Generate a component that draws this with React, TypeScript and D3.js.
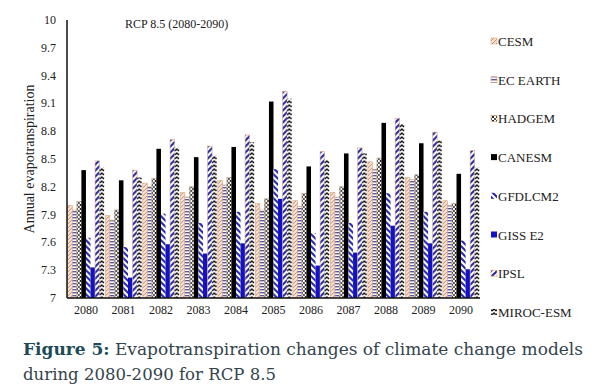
import React from 'react';
import * as d3 from 'd3';

const years = ['2080', '2081', '2082', '2083', '2084', '2085', '2086', '2087', '2088', '2089', '2090'];
const seriesNames = ['CESM', 'EC EARTH', 'HADGEM', 'CANESM', 'GFDLCM2', 'GISS E2', 'IPSL', 'MIROC-ESM'];
const cesm = [8.0, 7.89, 8.24, 8.14, 8.27, 8.02, 8.05, 8.14, 8.47, 8.3, 8.05];
const ecEarth = [7.95, 7.84, 8.2, 8.09, 8.22, 7.95, 7.99, 8.09, 8.39, 8.28, 8.0];
const hadgem = [8.04, 7.95, 8.29, 8.2, 8.3, 8.07, 8.13, 8.2, 8.51, 8.33, 8.02];
const canesm = [8.38, 8.27, 8.61, 8.52, 8.63, 9.12, 8.42, 8.56, 8.89, 8.67, 8.34];
const gfdl = [7.65, 7.55, 7.91, 7.81, 7.93, 8.39, 7.7, 7.81, 8.13, 7.93, 7.62];
const giss = [7.33, 7.22, 7.58, 7.48, 7.59, 8.07, 7.35, 7.49, 7.78, 7.59, 7.31];
const ipsl = [8.48, 8.38, 8.71, 8.64, 8.76, 9.23, 8.58, 8.62, 8.94, 8.79, 8.59];
const miroc = [8.41, 8.3, 8.63, 8.54, 8.68, 9.15, 8.49, 8.56, 8.88, 8.7, 8.41];
const yTicks = [7, 7.3, 7.6, 7.9, 8.2, 8.5, 8.8, 9.1, 9.4, 9.7, 10];

const seriesValues = [cesm, ecEarth, hadgem, canesm, gfdl, giss, ipsl, miroc];
const fills = ['url(#pCesm)', 'url(#pEc)', 'url(#pHad)', '#000', 'url(#pGfdl)', '#1212c4', 'url(#pIpsl)', 'url(#pMiroc)'];
const strokes = ['#d8aa86', '#d8aa86', '#c8a080', 'none', 'none', 'none', '#d8aa86', 'none'];

export default function App() {
  const W = 597, H = 391;
  const left = 67, right = 480, top = 20, bottom = 298;
  const x0 = d3.scaleBand<string>().domain(years).range([left, right]).paddingInner(0.03).paddingOuter(0.02);
  const x1 = d3.scaleBand<string>().domain(seriesNames).range([0, x0.bandwidth()]).padding(0);
  const y = d3.scaleLinear().domain([7, 10]).range([bottom, top]);
  const serif = '"Liberation Serif", "Times New Roman", serif';

  return (
    <svg width={W} height={H} style={{ position: 'absolute', left: 0, top: 0, background: '#fff' }}>
      <defs>
        <pattern id="pCesm" patternUnits="userSpaceOnUse" width="4" height="4">
          <rect width="4" height="4" fill="#f6e2d6" />
          <path d="M0,4 L4,0" stroke="#c98a68" strokeWidth="1" />
        </pattern>
        <pattern id="pEc" patternUnits="userSpaceOnUse" width="4" height="3">
          <rect width="4" height="3" fill="#ffffff" />
          <rect y="1" width="4" height="1.4" fill="#5a56a8" />
        </pattern>
        <pattern id="pHad" patternUnits="userSpaceOnUse" width="4" height="4">
          <rect width="4" height="4" fill="#ffffff" />
          <rect x="0" y="0" width="2" height="2" fill="#222" />
          <rect x="2" y="2" width="2" height="2" fill="#555" />
        </pattern>
        <pattern id="pGfdl" patternUnits="userSpaceOnUse" width="6" height="6">
          <rect width="6" height="6" fill="#ffffff" />
          <path d="M0,0 L6,6 M-3,3 L3,9 M3,-3 L9,3" stroke="#2020a8" strokeWidth="2" />
        </pattern>
        <pattern id="pIpsl" patternUnits="userSpaceOnUse" width="6" height="6">
          <rect width="6" height="6" fill="#ffffff" />
          <path d="M0,6 L6,0 M-3,3 L3,-3 M3,9 L9,3" stroke="#2424a0" strokeWidth="2" />
        </pattern>
        <pattern id="pMiroc" patternUnits="userSpaceOnUse" width="4" height="4">
          <rect width="4" height="4" fill="#ffffff" />
          <path d="M0,3 L2,1 L4,3" stroke="#111" strokeWidth="1.3" fill="none" />
        </pattern>
      </defs>

      {years.map((yr, i) => (
        <g key={yr} transform={`translate(${x0(yr)},0)`}>
          {seriesNames.map((s, j) => {
            const v = seriesValues[j][i];
            return (
              <rect
                key={s}
                x={x1(s) as number}
                y={y(v)}
                width={x1.bandwidth()}
                height={y(7) - y(v)}
                fill={fills[j]}
                stroke={strokes[j]}
                strokeWidth={0.6}
              />
            );
          })}
        </g>
      ))}

      <line x1={left} x2={left} y1={top} y2={bottom} stroke="#111" strokeWidth={1.5} />
      <line x1={left} x2={right} y1={bottom} y2={bottom} stroke="#111" strokeWidth={1.5} />

      {yTicks.map((t) => (
        <text key={t} x={56} y={y(t) + 4} textAnchor="end" fontFamily={serif} fontSize={12} fill="#222">
          {t}
        </text>
      ))}
      {years.map((yr) => (
        <text key={yr} x={(x0(yr) as number) + x0.bandwidth() / 2} y={314} textAnchor="middle" fontFamily={serif} fontSize={12} fill="#222">
          {yr}
        </text>
      ))}

      <text transform={`translate(34,${(top + bottom) / 2}) rotate(-90)`} textAnchor="middle" fontFamily={serif} fontSize={14} fill="#222">
        Annual evapotranspiration
      </text>
      <text x={125} y={28} fontFamily={serif} fontSize={12} fill="#222">RCP 8.5 (2080-2090)</text>

      {seriesNames.map((s, j) => {
        const ly = 42 + j * 38.7;
        return (
          <g key={s}>
            <rect x={491} y={ly - 4} width={6} height={6} fill={fills[j]} stroke={strokes[j]} strokeWidth={0.6} />
            <text x={498} y={ly + 4} fontFamily={serif} fontSize={13} fill="#222">{s}</text>
          </g>
        );
      })}

      <text x={23} y={355} fontFamily='"DejaVu Serif", serif' fontSize={17} fill="#34444c" textLength={560} lengthAdjust="spacingAndGlyphs">
        <tspan fontWeight="bold" fill="#1d4c58">Figure 5:</tspan> Evapotranspiration changes of climate change models
      </text>
      <text x={23} y={380} fontFamily='"DejaVu Serif", serif' fontSize={17} fill="#34444c" textLength={253} lengthAdjust="spacingAndGlyphs">
        during 2080-2090 for RCP 8.5
      </text>
    </svg>
  );
}
